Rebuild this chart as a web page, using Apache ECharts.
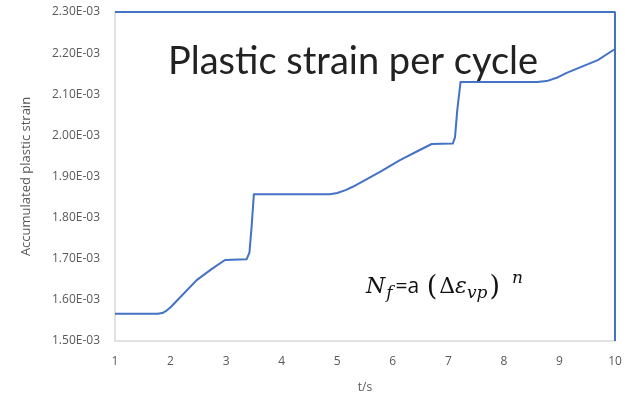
<!DOCTYPE html>
<html>
<head>
<meta charset="utf-8">
<script src="https://cdn.jsdelivr.net/npm/echarts@6/dist/echarts.min.js"></script>
<style>
  html, body { margin: 0; padding: 0; background: #ffffff; }
  #chart { width: 625px; height: 399px; }
</style>
</head>
<body>
<div id="chart"></div>
<script>
// Time (s) and accumulated plastic strain along the loading history
var timeSec = [1, 1.77, 1.85, 1.93, 2.0, 2.2, 2.47, 2.75, 2.98, 3.37, 3.42, 3.46, 3.50, 4.87, 5.0, 5.15, 5.28, 5.77, 6.13, 6.45, 6.70, 7.08, 7.12, 7.16, 7.22, 8.6, 8.77, 8.95, 9.13, 9.69, 10];
var strain = [1.566e-3, 1.566e-3, 1.568e-3, 1.574e-3, 1.582e-3, 1.610e-3, 1.648e-3, 1.676e-3, 1.697e-3, 1.699e-3, 1.715e-3, 1.780e-3, 1.857e-3, 1.857e-3, 1.860e-3, 1.867e-3, 1.875e-3, 1.911e-3, 1.940e-3, 1.962e-3, 1.979e-3, 1.980e-3, 1.995e-3, 2.060e-3, 2.130e-3, 2.130e-3, 2.132e-3, 2.140e-3, 2.152e-3, 2.183e-3, 2.210e-3];

// Upper and right edge traced in the series colour
var edgeTime = [1, 10, 10];
var edgeStrain = [2.30e-3, 2.30e-3, 1.50e-3];

var xTicks = [1, 2, 3, 4, 5, 6, 7, 8, 9, 10];

function pairs(xs, ys) {
  return xs.map(function (x, i) { return [x, ys[i]]; });
}

var blue = '#4472C4';
var chart = echarts.init(document.getElementById('chart'), null, { renderer: 'canvas' });

chart.setOption({
  animation: false,
  backgroundColor: '#ffffff',
  grid: { left: 115, right: 10, top: 12, bottom: 58, containLabel: false },
  title: {
    text: 'Plastic strain per cycle',
    left: 163, top: 38,
    textStyle: { fontFamily: 'Lato', fontWeight: 'normal', fontSize: 38, color: '#222222' }
  },
  xAxis: {
    type: 'value', min: 1, max: 10, interval: 1,
    name: 't/s', nameLocation: 'middle', nameGap: 41,
    nameTextStyle: { color: '#595959', fontSize: 12, fontFamily: 'Open Sans' },
    axisLine: { show: true, lineStyle: { color: '#d9d9d9', width: 1.5 } },
    axisTick: { show: false },
    splitLine: { show: false },
    axisLabel: {
      color: '#595959', fontSize: 12, fontFamily: 'Open Sans', margin: 15,
      formatter: function (v) { return xTicks.indexOf(v) >= 0 ? String(v) : ''; }
    }
  },
  yAxis: {
    type: 'value', min: 1.5e-3, max: 2.3e-3, interval: 1e-4,
    name: 'Accumulated plastic strain', nameLocation: 'middle', nameGap: 82, nameRotate: 90,
    nameTextStyle: { color: '#595959', fontSize: 13, fontFamily: 'Open Sans' },
    axisLine: { show: true, lineStyle: { color: '#d9d9d9', width: 1.5 } },
    axisTick: { show: false },
    splitLine: { show: false },
    axisLabel: {
      color: '#595959', fontSize: 12, fontFamily: 'Open Sans', margin: 15,
      formatter: function (v) { return (v * 1000).toFixed(2) + 'E-03'; }
    }
  },
  series: [
    {
      type: 'line', data: pairs(timeSec, strain),
      showSymbol: false, smooth: false,
      lineStyle: { color: blue, width: 2, join: 'round' }, z: 3
    },
    {
      type: 'line', data: pairs(edgeTime, edgeStrain),
      showSymbol: false, silent: true,
      lineStyle: { color: blue, width: 2 }, z: 2
    }
  ],
  graphic: [
    {
      type: 'text', left: 366, top: 270,
      style: {
        text: '{n|N}{subf|f}{eq|=a }{par|(}{d|Δ}{eps|ε}{sub|vp}{par|)}{sup|n}',
        rich: {
          n: { fontFamily: 'DejaVu Serif', fontStyle: 'italic', fontSize: 22, fill: '#111111' },
          subf: { fontFamily: 'DejaVu Serif', fontStyle: 'italic', fontSize: 17, fill: '#111111', padding: [12, 3, 0, 1] },
          sub: { fontFamily: 'DejaVu Serif', fontStyle: 'italic', fontSize: 17, fill: '#111111', padding: [12, 0, 0, 0] },
          eq: { fontFamily: 'Open Sans', fontSize: 21, fill: '#111111' },
          par: { fontFamily: 'DejaVu Serif', fontSize: 27, fill: '#111111', padding: [0, 2, 0, 2] },
          d: { fontFamily: 'DejaVu Serif', fontSize: 22, fill: '#111111' },
          eps: { fontFamily: 'DejaVu Serif', fontStyle: 'italic', fontSize: 22, fill: '#111111' },
          sup: { fontFamily: 'DejaVu Serif', fontStyle: 'italic', fontSize: 17, fill: '#111111', padding: [0, 0, 18, 10] }
        }
      }
    }
  ]
});
</script>
</body>
</html>
